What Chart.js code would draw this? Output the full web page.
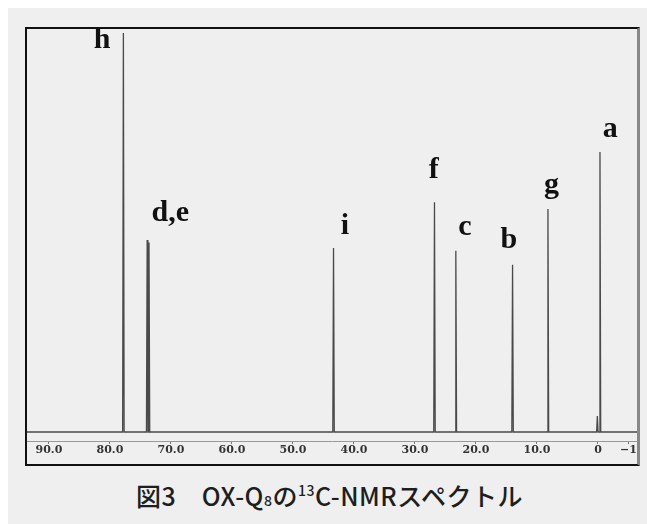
<!DOCTYPE html>
<html>
<head>
<meta charset="utf-8">
<script src="https://cdn.jsdelivr.net/npm/chart.js@4.4.0/dist/chart.umd.min.js"></script>
<style>
  html, body { margin: 0; padding: 0; background: #fff; }
  #panel { position: absolute; left: 8px; top: 8px; width: 639px; height: 516px; background: #eeefee; }
  #frame { position: absolute; left: 17px; top: 19px; width: 610px; height: 435px;
           border-top: 2px solid #111; border-left: 2px solid #111; border-bottom: 2px solid #111;
           border-right: 3px solid #888; }
  #frame canvas { position: absolute; left: 0; top: 0; }
  #caption { position: absolute; left: 6px; width: 647px; top: 477px; text-align: center;
             font-family: "Noto Sans CJK JP", sans-serif; font-weight: 500; font-size: 25px;
             letter-spacing: 0.5px; color: #1e1e1e; }
  #caption sub, #caption sup { font-size: 14px; }
  #caption sub { vertical-align: 0; }
  #caption sup { vertical-align: 10px; }
</style>
</head>
<body>
<div id="panel">
  <div id="frame"><canvas id="nmr" width="610" height="435"></canvas></div>
</div>
<div id="caption">図3&emsp;OX-Q<sub>8</sub>の<sup>13</sup>C-NMRスペクトル</div>
<script>
// chemical shifts (ppm) and relative heights of the peaks
const peakPpm    = [77.8, 73.9, 73.6, 43.35, 26.8, 23.3, 14.0, 8.2, 0.1, -0.33];
const peakHeight = [100,  48.1, 47.5, 46.1,  57.6, 45.4, 41.9, 55.9, 4.0, 70.2];

// peak assignment letters
const labelText = ["h", "d,e", "i", "f", "c", "b", "g", "a"];
const labelPpm  = [81.3, 70.1, 41.5, 26.9, 21.8, 14.6, 7.6, -2.0];
const labelInt  = [96.2, 52.9, 49.6, 63.7, 49.4, 46.1, 59.9, 73.9];

// axis ticks
const tickValues = [90, 80, 70, 60, 50, 40, 30, 20, 10, 0, -5];
const tickLabels = ["90.0", "80.0", "70.0", "60.0", "50.0", "40.0", "30.0", "20.0", "10.0", "0", "\u22121"];

const ppmMax = 93.6, ppmMin = -6.4;

const spectrum = [{ x: ppmMax, y: 0 }];
peakPpm.forEach((p, i) => {
  spectrum.push({ x: p + 0.12, y: 0 }, { x: p, y: peakHeight[i] }, { x: p - 0.12, y: 0 });
});
spectrum.push({ x: ppmMin, y: 0 });

const peakLabels = {
  id: "peakLabels",
  afterDatasetsDraw(chart) {
    const { ctx, scales: { x, y } } = chart;
    ctx.save();
    ctx.font = 'bold 30px "Liberation Serif"';
    ctx.fillStyle = "#111";
    ctx.textAlign = "center";
    ctx.textBaseline = "alphabetic";
    labelText.forEach((t, i) => ctx.fillText(t, x.getPixelForValue(labelPpm[i]), y.getPixelForValue(labelInt[i])));
    ctx.restore();
  }
};

new Chart(document.getElementById("nmr"), {
  type: "line",
  data: {
    datasets: [{
      data: spectrum,
      borderColor: "#4a4a4a",
      borderWidth: 1.3,
      pointRadius: 0,
      tension: 0
    }]
  },
  options: {
    responsive: false,
    animation: false,
    layout: { padding: 0 },
    plugins: { legend: { display: false }, tooltip: { enabled: false } },
    scales: {
      x: {
        type: "linear",
        reverse: true,
        min: ppmMin,
        max: ppmMax,
        afterBuildTicks: s => { s.ticks = tickValues.map(v => ({ value: v })); },
        afterFit: s => { s.height = 23; },
        ticks: {
          callback: (v, i) => tickLabels[i],
          font: { family: "DejaVu Serif", weight: "bold", size: 11 },
          color: "#333",
          padding: 0,
          maxRotation: 0,
          autoSkip: false
        },
        grid: { drawOnChartArea: false, tickLength: 3, color: "#777" },
        border: { color: "#999", dash: [2, 2] }
      },
      y: { display: false, min: -2.26, max: 101 }
    }
  },
  plugins: [peakLabels]
});
</script>
</body>
</html>
